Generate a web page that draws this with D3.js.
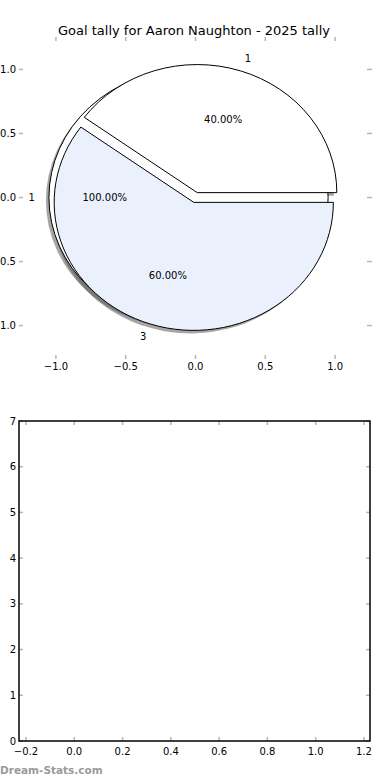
<!DOCTYPE html>
<html>
<head>
<meta charset="utf-8">
<script src="https://cdn.jsdelivr.net/npm/d3@7"></script>
<style>
  body { margin: 0; background: #fff; }
  svg { display: block; }
  text { font-family: "DejaVu Sans", sans-serif; }
</style>
</head>
<body>
<svg id="chart" width="390" height="780"></svg>
<script>
// ---- data ----
const titleText = "Goal tally for Aaron Naughton - 2025 tally";
const outerLabels = ["1"];
const outerValues = [1];
const outerExplode = [0.05];
const innerLabels = ["1", "3"];
const innerValues = [2, 3];
const innerExplode = [0.04, 0.04];
const innerColors = ["#ffffff", "#ebf0fd"];
const pieXTicks = [-1.0, -0.5, 0.0, 0.5, 1.0];
const pieYTicks = [-1.0, -0.5, 0.0, 0.5, 1.0];
const barXTicks = [-0.2, 0.0, 0.2, 0.4, 0.6, 0.8, 1.0, 1.2];
const barYTicks = [0, 1, 2, 3, 4, 5, 6, 7];
const watermark = "Dream-Stats.com";

const svg = d3.select("#chart");
const fmtTick = d => d3.format(".1f")(d).replace("-", "\u2212");
const tickColor = "#b5b5b5";

// ---- pie axes ----
const px = d3.scaleLinear().domain([-1.25, 1.25]).range([21, 370]);
const py = d3.scaleLinear().domain([-1.23, 1.23]).range([355, 40]);
const sx = px(1) - px(0), sy = py(0) - py(1);

svg.append("text").attr("x", 194).attr("y", 30).attr("text-anchor", "middle")
  .attr("dominant-baseline", "central").attr("font-size", 13).attr("fill", "#000").text(titleText);

// pie ticks (no frame)
const tg = svg.append("g");
pieXTicks.forEach(t => {
  tg.append("line").attr("x1", px(t)).attr("x2", px(t)).attr("y1", 355).attr("y2", 359)
    .attr("stroke", tickColor).attr("stroke-width", 1.5);
  tg.append("line").attr("x1", px(t)).attr("x2", px(t)).attr("y1", 37).attr("y2", 41)
    .attr("stroke", tickColor).attr("stroke-width", 1.5);
  tg.append("text").attr("x", px(t)).attr("y", 366).attr("text-anchor", "middle")
    .attr("dominant-baseline", "central").attr("font-size", 10).text(fmtTick(t));
});
pieYTicks.forEach(t => {
  tg.append("line").attr("x1", 19).attr("x2", 23).attr("y1", py(t)).attr("y2", py(t))
    .attr("stroke", tickColor).attr("stroke-width", 1.5);
  tg.append("line").attr("x1", 367).attr("x2", 372).attr("y1", py(t)).attr("y2", py(t))
    .attr("stroke", tickColor).attr("stroke-width", 1.5);
  tg.append("text").attr("x", 16).attr("y", py(t)).attr("text-anchor", "end")
    .attr("dominant-baseline", "central").attr("font-size", 10).text(fmtTick(t));
});

// pie layout: d3 angles clockwise from top; start at 3 o'clock going counter-clockwise
const pieGen = d3.pie().sort(null).startAngle(Math.PI / 2).endAngle(Math.PI / 2 - 2 * Math.PI);
const arcGen = d3.arc().innerRadius(0).outerRadius(1);

function buildPie(values, labels, explode, colors) {
  return pieGen(values).map((d, i) => {
    const mid = (d.startAngle + d.endAngle) / 2;
    const ux = Math.sin(mid), uy = Math.cos(mid); // data coords, y up
    const cx = explode[i] * ux, cy = explode[i] * uy;
    const frac = values[i] / d3.sum(values);
    return {
      a0: Math.min(d.startAngle, d.endAngle), a1: Math.max(d.startAngle, d.endAngle),
      cx, cy, ux, uy, label: labels[i], pct: (frac * 100).toFixed(2) + "%",
      color: colors[i]
    };
  });
}
const outer = buildPie(outerValues, outerLabels, outerExplode, ["#ffffff"]);
const inner = buildPie(innerValues, innerLabels, innerExplode, innerColors);

function wedge(g, w, fill, stroke, dx, dy, opacity) {
  g.append("path")
    .attr("d", arcGen({ startAngle: w.a0, endAngle: w.a1 }))
    .attr("transform", `translate(${px(w.cx) + dx},${py(w.cy) + dy}) scale(${sx},${sy})`)
    .attr("fill", fill).attr("fill-opacity", opacity)
    .attr("stroke", stroke).attr("stroke-width", stroke === "none" ? 0 : 1)
    .attr("vector-effect", "non-scaling-stroke");
}
const pg = svg.append("g");
// shadows first, then wedges
[...outer, ...inner].forEach(w => wedge(pg, w, "#4d4d4d", "none", -3, 3, 0.5));
outer.forEach(w => wedge(pg, w, w.color, "#000", 0, 0, 1));
inner.forEach(w => wedge(pg, w, w.color, "#000", 0, 0, 1));

// labels
[...outer, ...inner].forEach(w => {
  const lx = w.cx + 1.1 * w.ux, ly = w.cy + 1.1 * w.uy;
  pg.append("text").attr("x", px(lx)).attr("y", py(ly))
    .attr("text-anchor", lx > 0 ? "start" : "end").attr("dominant-baseline", "central")
    .attr("font-size", 10).text(w.label);
  const tx = w.cx + 0.6 * w.ux, ty = w.cy + 0.6 * w.uy;
  pg.append("text").attr("x", px(tx)).attr("y", py(ty))
    .attr("text-anchor", "middle").attr("dominant-baseline", "central")
    .attr("font-size", 10).text(w.pct);
});

// ---- empty bar axes ----
const bx = d3.scaleLinear().domain([-0.229, 1.225]).range([19, 370]);
const by = d3.scaleLinear().domain([0, 7]).range([741, 421]);
const bg = svg.append("g");
barXTicks.forEach(t => {
  bg.append("line").attr("x1", bx(t)).attr("x2", bx(t)).attr("y1", 741).attr("y2", 737)
    .attr("stroke", tickColor).attr("stroke-width", 1.5);
  bg.append("line").attr("x1", bx(t)).attr("x2", bx(t)).attr("y1", 421).attr("y2", 425)
    .attr("stroke", tickColor).attr("stroke-width", 1.5);
  bg.append("text").attr("x", bx(t)).attr("y", 751).attr("text-anchor", "middle")
    .attr("dominant-baseline", "central").attr("font-size", 10).text(fmtTick(t));
});
barYTicks.forEach(t => {
  bg.append("line").attr("x1", 19).attr("x2", 23).attr("y1", by(t)).attr("y2", by(t))
    .attr("stroke", tickColor).attr("stroke-width", 1.5);
  bg.append("line").attr("x1", 370).attr("x2", 366).attr("y1", by(t)).attr("y2", by(t))
    .attr("stroke", tickColor).attr("stroke-width", 1.5);
  bg.append("text").attr("x", 16).attr("y", by(t)).attr("text-anchor", "end")
    .attr("dominant-baseline", "central").attr("font-size", 10).text(String(t));
});
bg.append("rect").attr("x", 19).attr("y", 421).attr("width", 351).attr("height", 320)
  .attr("fill", "none").attr("stroke", "#000").attr("stroke-width", 1.5);

svg.append("text").attr("x", 0).attr("y", 770).attr("dominant-baseline", "central")
  .attr("font-size", 10.5).attr("font-weight", "bold").attr("fill", "#9a9a9a").text(watermark);
</script>
</body>
</html>
